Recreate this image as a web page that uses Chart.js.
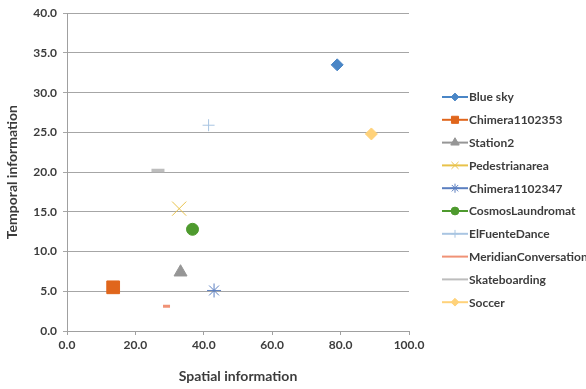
<!DOCTYPE html>
<html>
<head>
<meta charset="utf-8">
<script src="https://cdn.jsdelivr.net/npm/chart.js@4/dist/chart.umd.min.js"></script>
<style>
  html, body { margin: 0; padding: 0; background: #ffffff; }
  #wrap { width: 586px; height: 389px; }
</style>
</head>
<body>
<div id="wrap"><canvas id="grafico"></canvas></div>
<script>
// Datos
const seriesNames = [
  "Blue sky", "Chimera1102353", "Station2", "Pedestrianarea", "Chimera1102347",
  "CosmosLaundromat", "ElFuenteDance", "MeridianConversation", "Skateboarding", "Soccer",
];
const spatialValues = [79.0, 13.5, 33.2, 32.8, 43.0, 36.7, 41.4, 29.1, 26.6, 89.0];
const temporalValues = [33.5, 5.5, 7.4, 15.4, 5.1, 12.8, 25.9, 3.1, 20.2, 24.8];
const seriesColors = [
  "#4a86c6", "#e0661c", "#969696", "#e8c24a", "#5b7fc0",
  "#4e9a2e", "#a9c5e2", "#f09276", "#bdbdbd", "#ffd27a",
];
const markerStyles = ["rectRot", "rect", "triangle", "crossRot", "star", "circle", "cross", "line", "line", "rectRot"];
const markerSizes = [6, 9, 7.5, 10, 7, 6, 6, 3.5, 6.5, 6];
const markerBorders = [1, 1, 1, 1, 1, 1, 1, 3, 3.5, 1];

const textColor = "#3c3c3c";
const fontFamily = "Lato, 'Open Sans', sans-serif";

const datasets = seriesNames.map((name, i) => ({
  label: name,
  data: [{ x: spatialValues[i], y: temporalValues[i] }],
  pointStyle: markerStyles[i],
  pointRadius: markerSizes[i],
  pointHoverRadius: markerSizes[i],
  backgroundColor: seriesColors[i],
  borderColor: seriesColors[i],
  pointBorderWidth: markerBorders[i],
}));

// Leyenda al estilo Excel: línea corta con el marcador en medio
const excelLegend = {
  id: "excelLegend",
  afterDraw(chart) {
    const ctx = chart.ctx;
    const x0 = 442;
    const y0 = 97;
    const step = 22.8;
    ctx.save();
    seriesNames.forEach((name, i) => {
      const y = y0 + i * step;
      ctx.strokeStyle = seriesColors[i];
      ctx.lineWidth = 2;
      ctx.beginPath();
      ctx.moveTo(x0, y);
      ctx.lineTo(x0 + 26, y);
      ctx.stroke();
      const small = markerStyles[i] === "line" ? 0 : Math.min(markerSizes[i] * 0.65, 5);
      if (small > 0) {
        ctx.fillStyle = seriesColors[i];
        ctx.strokeStyle = seriesColors[i];
        ctx.lineWidth = 1;
        Chart.helpers.drawPoint(ctx, { pointStyle: markerStyles[i], radius: small, borderWidth: 1, rotation: 0 }, x0 + 13, y);
      }
      ctx.fillStyle = textColor;
      ctx.font = "bold 12px " + fontFamily;
      ctx.textBaseline = "middle";
      ctx.textAlign = "left";
      ctx.fillText(name, x0 + 27, y + 0.5);
    });
    ctx.restore();
  },
};

new Chart(document.getElementById("grafico"), {
  type: "scatter",
  data: { datasets },
  plugins: [excelLegend],
  options: {
    responsive: true,
    maintainAspectRatio: false,
    animation: false,
    layout: { padding: { top: 12, right: 177, left: 0, bottom: 0 } },
    plugins: {
      legend: { display: false },
      tooltip: { enabled: false },
    },
    scales: {
      x: {
        type: "linear",
        min: 0,
        max: 100,
        afterFit(scale) { scale.height = 58; },
        ticks: {
          stepSize: 20,
          color: textColor,
          padding: 3,
          font: { family: fontFamily, size: 12, weight: "bold" },
          callback: (v) => v.toFixed(1),
        },
        grid: { drawOnChartArea: false, drawTicks: true, tickLength: 4, color: "#a0a0a0" },
        border: { color: "#a0a0a0" },
        title: {
          display: true,
          text: "Spatial information",
          color: textColor,
          font: { family: fontFamily, size: 14, weight: "bold" },
          padding: { top: 11 },
        },
      },
      y: {
        type: "linear",
        min: 0,
        max: 40,
        afterFit(scale) { scale.width = 67; },
        ticks: {
          stepSize: 5,
          color: textColor,
          padding: 6,
          font: { family: fontFamily, size: 12, weight: "bold" },
          callback: (v) => v.toFixed(1),
        },
        grid: { color: "#a6a6a6", tickLength: 4 },
        border: { color: "#a0a0a0" },
        title: {
          display: true,
          text: "Temporal information",
          color: textColor,
          font: { family: fontFamily, size: 14, weight: "bold" },
          padding: { bottom: 0 },
        },
      },
    },
  },
});
</script>
</body>
</html>
